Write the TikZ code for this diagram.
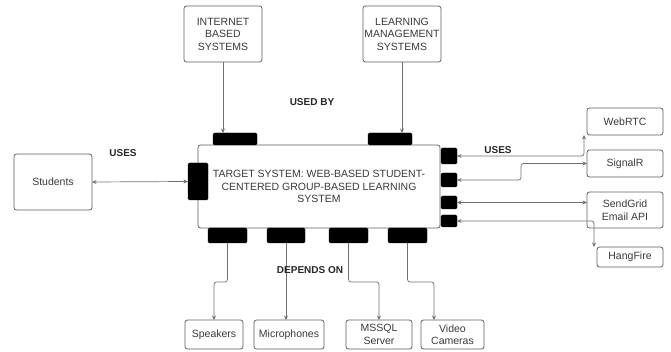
\documentclass[tikz,border=0pt]{standalone}
\usepackage{fontspec}
\setmainfont{Liberation Sans}
\usetikzlibrary{arrows.meta}
\definecolor{boxgray}{HTML}{5F5F5F}
\definecolor{linegray}{HTML}{707070}
\definecolor{textgray}{HTML}{3A3A3A}
\begin{document}
\begin{tikzpicture}[x=1pt, y=-1pt, >={Stealth[length=4.5pt,width=4pt]},
  box/.style={draw=boxgray, line width=0.8pt, rounded corners=2.5pt, fill=white, inner sep=0pt,
    outer sep=0pt, align=center, text=textgray, font=\fontsize{10.5}{12.5}\selectfont},
  tab/.style={fill=black, draw=black, rounded corners=1.5pt, inner sep=0pt, outer sep=0pt},
  link/.style={draw=linegray, line width=0.7pt, rounded corners=2.5pt},
  tag/.style={font=\bfseries\fontsize{10}{12}\selectfont, text=black!85}]

      \useasboundingbox (0,0) rectangle (671,352);

      \node[box, minimum width=242pt, minimum height=83pt] (target) at (319,186.5)
        {TARGET SYSTEM: WEB-BASED STUDENT-\\CENTERED GROUP-BASED LEARNING\\SYSTEM};

      \node[box, minimum width=78pt, minimum height=56pt] (ibs) at (223,34) {INTERNET\\BASED\\SYSTEMS};
      \node[box, minimum width=78pt, minimum height=56pt] (lms) at (402,34) {LEARNING\\MANAGEMENT\\SYSTEMS};
      \node[box, minimum width=78pt, minimum height=56pt] (students) at (53,182) {Students};

      \node[box, minimum width=76pt, minimum height=27pt] (webrtc) at (625,121.5) {WebRTC};
      \node[box, minimum width=76pt, minimum height=27pt] (signalr) at (625,163.5) {SignalR};
      \node[box, minimum width=76pt, minimum height=36pt] (sendgrid) at (625,210) {SendGrid\\Email API};
      \node[box, minimum width=66pt, minimum height=20pt] (hangfire) at (630,257) {HangFire};

      \node[box, minimum width=58pt, minimum height=29pt] (speakers) at (214,334.5) {Speakers};
      \node[box, minimum width=70pt, minimum height=29pt] (mics) at (289,334.5) {Microphones};
      \node[box, minimum width=66pt, minimum height=29pt] (mssql) at (379,334.5) {MSSQL\\Server};
      \node[box, minimum width=63pt, minimum height=29pt] (video) at (452.5,334.5) {Video\\Cameras};

      \node[tab, minimum width=44pt, minimum height=12pt] (tabIBS) at (235,139) {};
      \node[tab, minimum width=44pt, minimum height=12pt] (tabLMS) at (390,139) {};
      \node[tab, minimum width=20pt, minimum height=37pt] (tabStu) at (198,181.5) {};

      \node[tab, minimum width=16pt, minimum height=16pt] (tabR1) at (449,156) {};
      \node[tab, minimum width=16pt, minimum height=14pt] (tabR2) at (449,180) {};
      \node[tab, minimum width=16pt, minimum height=13pt] (tabR3) at (449,202.5) {};
      \node[tab, minimum width=16pt, minimum height=12pt] (tabR4) at (449,221) {};

      \node[tab, minimum width=39pt, minimum height=15pt] (tabB1) at (227.5,235.5) {};
      \node[tab, minimum width=38pt, minimum height=15pt] (tabB2) at (286,235.5) {};
      \node[tab, minimum width=39pt, minimum height=15pt] (tabB3) at (348.5,235.5) {};
      \node[tab, minimum width=39pt, minimum height=15pt] (tabB4) at (407.5,235.5) {};

      \coordinate (wx) at (584,0);
      \coordinate (jog) at (521,170);
      \coordinate (hx) at (594,0);
      \coordinate (dep) at (0,282);

      \draw[link,->] (ibs.south) -- (ibs.south |- tabIBS.north);
      \draw[link,->] (lms.south) -- (lms.south |- tabLMS.north);
      \draw[link,<->] (students.east) -- (tabStu.west);

      \draw[link,<->] (tabR1.east) -| (webrtc.south -| wx);
      \draw[link,<->] (tabR2.east) -| (jog) |- (signalr.west);
      \draw[link,<->] (tabR3.east) -- (tabR3.east -| sendgrid.west);
      \draw[link,<->] (tabR4.east) -| (hangfire.north -| hx);

      \draw[link,->] (tabB1.south) -- (tabB1.south |- dep) -| (speakers.north);
      \draw[link,->] (tabB2.south) -- (tabB2.south |- mics.north);
      \draw[link,->] (tabB3.south) -- (tabB3.south |- dep) -| (mssql.north);
      \draw[link,->] (tabB4.south) -- (tabB4.south |- dep) -| ([xshift=-18.5pt]video.north);

      \node[tag] (usesL) at (123,153) {USES};
      \node[tag] (usedby) at (312,102) {USED BY};
      \node[tag] (usesR) at (498,150) {USES};
      \node[tag] (depends) at (310,270) {DEPENDS ON};
    \end{tikzpicture}
\end{document}
